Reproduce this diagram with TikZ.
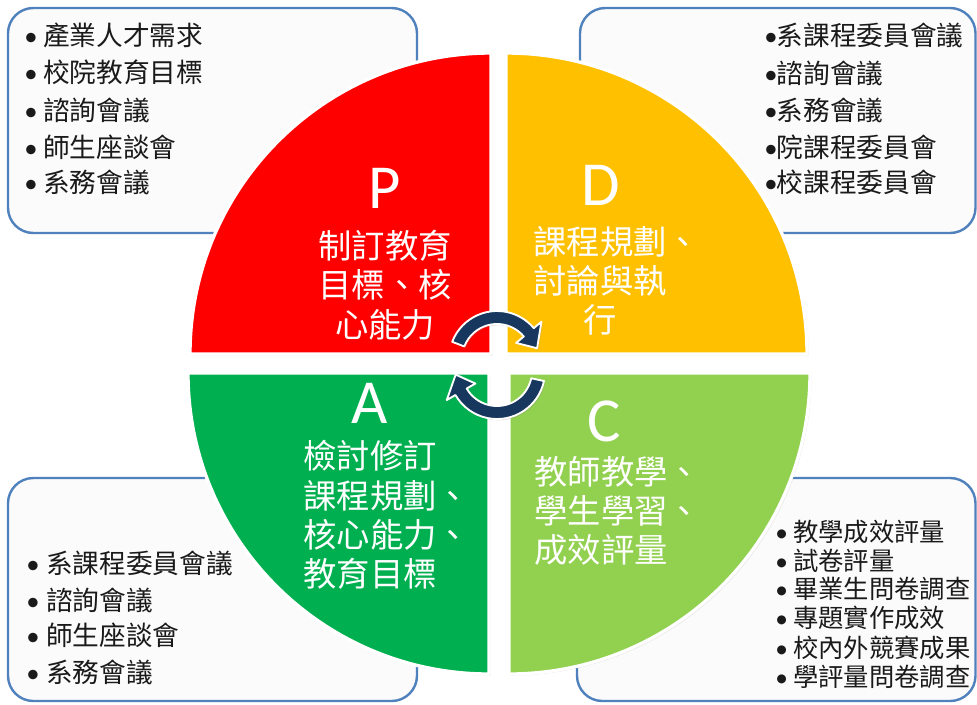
\documentclass[tikz,border=0pt]{standalone}
\usepackage{fontspec}
\setmainfont{Carlito}
\newfontfamily\cjk{Noto Sans CJK TC}
\usetikzlibrary{shadows}
\definecolor{pdcaRed}{HTML}{FF0000}
\definecolor{pdcaYellow}{HTML}{FFC000}
\definecolor{pdcaGreen}{HTML}{00B050}
\definecolor{pdcaLime}{HTML}{92D050}
\definecolor{boxBlue}{HTML}{4F81BD}
\definecolor{boxFill}{HTML}{FBFBFB}
\definecolor{textDark}{HTML}{1A1A1A}
\definecolor{arrowNavy}{HTML}{17375E}
\newcommand{\bul}[1]{\makebox[#1][l]{\normalfont •}}
\begin{document}
\begin{tikzpicture}[x=0.75pt,y=-0.75pt,
  infobox/.style={draw=boxBlue, line width=1.8pt, fill=boxFill, rounded corners=19pt},
  quarter/.style={draw=white, line width=2.5pt, line join=round,
    drop shadow={opacity=0.2, shadow xshift=1.2pt, shadow yshift=-1.2pt}},
  item/.style={font=\cjk\fontsize{20}{24}\selectfont, text=textDark, anchor=west, inner sep=0pt},
  smallitem/.style={item, font=\cjk\fontsize{19}{23}\selectfont},
  stagetext/.style={font=\cjk\fontsize{25}{29.4}\selectfont, text=white, align=center, inner sep=0pt},
  stageletter/.style={font=\fontsize{47}{50}\selectfont, text=white, inner sep=0pt},
  cyclearrow/.style={fill=arrowNavy, draw=white, line width=1.4pt, line join=round,
    drop shadow={opacity=0.25, shadow xshift=1pt, shadow yshift=-1pt}}
]
\useasboundingbox (0,0) rectangle (977,704);
\fill[white] (0,0) rectangle (977,704);

% surrounding information boxes
\draw[infobox] (8,8) rectangle (417,233);
\draw[infobox] (580,8) rectangle (975.5,233);
\draw[infobox] (8,478) rectangle (417,701);
\draw[infobox] (577,478) rectangle (975.5,701);

% top-left list
\node[item] (tl1) at (24,35)  {\bul{14.25pt}產業人才需求};
\node[item] (tl2) at (24,72)  {\bul{14.25pt}校院教育目標};
\node[item] (tl3) at (24,110) {\bul{14.25pt}諮詢會議};
\node[item] (tl4) at (24,147) {\bul{14.25pt}師生座談會};
\node[item] (tl5) at (24,182) {\bul{14.25pt}系務會議};

% top-right list
\node[item] (tr1) at (764,35)  {\bul{9.5pt}系課程委員會議};
\node[item] (tr2) at (764,73)  {\bul{9.5pt}諮詢會議};
\node[item] (tr3) at (764,110) {\bul{9.5pt}系務會議};
\node[item] (tr4) at (764,147) {\bul{9.5pt}院課程委員會};
\node[item] (tr5) at (764,182) {\bul{9.5pt}校課程委員會};

% bottom-left list
\node[item] (bl1) at (26,563) {\bul{15pt}系課程委員會議};
\node[item] (bl2) at (26,600) {\bul{15pt}諮詢會議};
\node[item] (bl3) at (26,635) {\bul{15pt}師生座談會};
\node[item] (bl4) at (26,672) {\bul{15pt}系務會議};

% bottom-right list
\node[smallitem] (br1) at (775,532) {\bul{13.5pt}教學成效評量};
\node[smallitem] (br2) at (775,561) {\bul{13.5pt}試卷評量};
\node[smallitem] (br3) at (775,589) {\bul{13.5pt}畢業生問卷調查};
\node[smallitem] (br4) at (775,618) {\bul{13.5pt}專題實作成效};
\node[smallitem] (br5) at (775,648) {\bul{13.5pt}校內外競賽成果};
\node[smallitem] (br6) at (775,677) {\bul{13.5pt}學評量問卷調查};

% the four PDCA quarters
\filldraw[quarter, fill=pdcaRed]    (491,354) -- (190,354) arc[start angle=180, end angle=270, radius=301] -- cycle;
\filldraw[quarter, fill=pdcaYellow] (506,354) -- (506,53)  arc[start angle=270, end angle=360, radius=301] -- cycle;
\filldraw[quarter, fill=pdcaGreen]  (489,373) -- (489,674) arc[start angle=90,  end angle=180, radius=301] -- cycle;
\filldraw[quarter, fill=pdcaLime]   (509,373) -- (810,373) arc[start angle=0,   end angle=90,  radius=301] -- cycle;

% stage letters and descriptions
\node[stageletter] (pL) at (385,188) {P};
\node[stagetext]   (pT) at (385,285) {制訂教育\\目標、核\\心能力};
\node[stageletter] (dL) at (601,185) {D};
\node[stagetext]   (dT) at (600,281) {課程規劃\rlap{、}\\討論與執\\行};
\node[stageletter] (aL) at (370,403) {A};
\node[stagetext]   (aT) at (370,515) {檢討修訂\\課程規劃\rlap{、}\\核心能力\rlap{、}\\教育目標};
\node[stageletter] (cL) at (604,421) {C};
\node[stagetext]   (cT) at (601,511) {教師教學\rlap{、}\\學生學習\rlap{、}\\成效評量};

% cycle arrows in the middle
\begin{scope}[shift={(497,359)}]
  \filldraw[cyclearrow] (201:48) arc[start angle=201, end angle=320, radius=48]
    -- (320:58) -- (345:41.5) -- (320:25) -- (320:35)
    arc[start angle=320, end angle=201, radius=35] -- cycle;
\end{scope}
\begin{scope}[shift={(497,371)}]
  \filldraw[cyclearrow] (12:48) arc[start angle=12, end angle=150, radius=48]
    -- (150:58) -- (175:41.5) -- (150:25) -- (150:35)
    arc[start angle=150, end angle=12, radius=35] -- cycle;
\end{scope}
\end{tikzpicture}
\end{document}
